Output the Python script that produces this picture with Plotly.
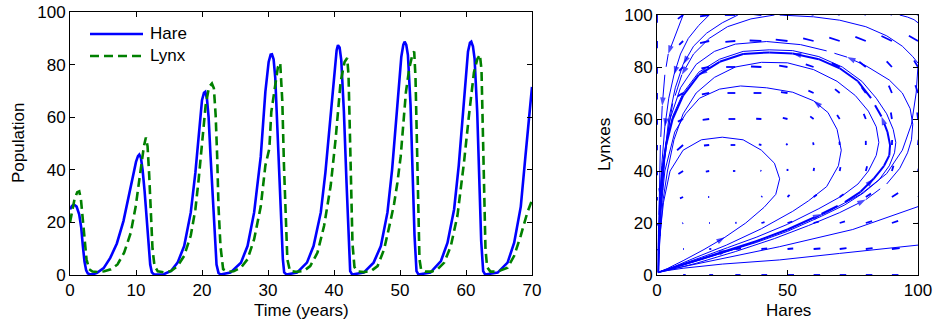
import plotly.graph_objects as go

# ---------------- time series ----------------
hare_pts = [(0, 25), (0.3, 26.3), (0.6, 26.8), (1.0, 26), (1.4, 23), (1.7, 18), (1.95, 11), (2.2, 5), (2.45, 1.8), (2.7, 0.6), (3.0, 0.3), (3.5, 0.3), (4.1, 0.8), (5.1, 2.6), (6.1, 6.5), (7.1, 12), (8.1, 20.5), (9.0, 31), (9.6, 38.5), (10.0, 43), (10.3, 45.2), (10.5, 45.8), (10.75, 44.5), (11.0, 40), (11.3, 32), (11.6, 22), (11.9, 11), (12.15, 4), (12.4, 1), (12.7, 0.3), (13.2, 0.2), (14.2, 0.3),
            (15.3, 1.5), (16.3, 4.7), (17.3, 11), (18.3, 23.8), (19.0, 39), (19.5, 54), (20.0, 66.5), (20.3, 69.3), (20.5, 69.7), (20.75, 67), (21.0, 60), (21.3, 45), (21.6, 30), (21.9, 15), (22.2, 4), (22.5, 0.8), (22.8, 0.2), (24.3, 0.9),
            (25.9, 4.7), (26.9, 11), (27.9, 23.8), (28.9, 45), (29.6, 69.6), (30.1, 81), (30.4, 83.8), (30.6, 83.9), (30.85, 82), (31.1, 75), (31.4, 58), (31.7, 40), (32.0, 20), (32.25, 6), (32.45, 1), (32.8, 0.2), (34.4, 0.9),
            (35.9, 4.7), (36.9, 11), (38.0, 23.8), (38.7, 39), (39.5, 60.7), (40.1, 79.8), (40.4, 85.5), (40.6, 87.4), (40.85, 86.5), (41.1, 81.7), (41.5, 62), (41.9, 35), (42.2, 12), (42.45, 1.5), (42.75, 0.2), (44.5, 0.9),
            (46.0, 4.7), (47.1, 11), (48.1, 23.8), (48.8, 40), (49.6, 64.5), (50.2, 83), (50.5, 87.5), (50.7, 88.7), (50.95, 87.5), (51.2, 83.6), (51.6, 64.5), (51.9, 40), (52.2, 15), (52.5, 1.5), (52.8, 0.2), (54.6, 0.9),
            (56.2, 5.3), (57.2, 12.3), (58.2, 25), (58.9, 41.6), (59.7, 67), (60.3, 84.9), (60.6, 88.3), (60.8, 88.7), (61.05, 87), (61.3, 82.3), (61.7, 62), (62.0, 38), (62.3, 13), (62.6, 1.5), (62.9, 0.2), (64.8, 0.9),
            (66.3, 4.7), (67.3, 12.3), (68.3, 26), (69.0, 45), (69.5, 58), (70.0, 71.5)]

lynx_pts = [(0, 20), (0.3, 24.5), (0.7, 29), (1.1, 31.5), (1.4, 31.8), (1.65, 29), (1.9, 23), (2.2, 13.5), (2.5, 6), (2.9, 2.2), (3.4, 1.3), (4.2, 1.1), (5.2, 1.4), (6.2, 2.2), (7.2, 4), (8.2, 8.5), (9.2, 16), (9.95, 26), (10.6, 39), (11.2, 49), (11.5, 52.3), (11.75, 49), (12.0, 38), (12.25, 22), (12.5, 10), (12.8, 3.5), (13.3, 1.4), (14.2, 1.0),
            (15.3, 1.5), (16.3, 3.4), (17.3, 7.3), (18.3, 15), (19.0, 25), (19.5, 36.5), (20.05, 51.8), (20.55, 64.5), (21.06, 71.5), (21.5, 72.8), (21.8, 71), (22.07, 60.7), (22.3, 45), (22.5, 26), (22.8, 11), (23.2, 2.2), (23.8, 1.3), (24.8, 1.4),
            (25.9, 2.8), (26.9, 6), (27.9, 13.6), (28.9, 26), (29.6, 41.6), (30.2, 48), (30.5, 62), (30.9, 69.6), (31.5, 79), (31.85, 80.6), (32.17, 66), (32.42, 41.6), (32.68, 20), (32.93, 6), (33.33, 1.5), (34.2, 1.2),
            (35.4, 1.5), (36.4, 3.4), (37.5, 8.5), (38.5, 18.7), (39.5, 34), (40.25, 51.8), (41.0, 73.4), (41.6, 81), (42.0, 82.5), (42.2, 76), (42.4, 55), (42.6, 32), (42.8, 12), (43.1, 3), (43.6, 1.3), (44.5, 1.1),
            (45.6, 1.5), (46.6, 3.4), (47.6, 9.8), (48.6, 21), (49.1, 27), (49.6, 35), (50.1, 45), (50.9, 69.6), (51.4, 78.5), (51.9, 84), (52.15, 85), (52.35, 75), (52.55, 50), (52.75, 22), (52.95, 6), (53.2, 2), (53.8, 1.3), (54.8, 1.3),
            (55.7, 2.2), (56.7, 4.7), (57.7, 11), (58.7, 22.5), (59.7, 42.9), (60.45, 60.7), (61.2, 77), (61.7, 82), (62.1, 83.8), (62.35, 78), (62.55, 55), (62.75, 28), (62.95, 10), (63.2, 3), (63.7, 1.3), (64.8, 1.3),
            (66.3, 2.8), (67.3, 7.3), (68.3, 15), (69.3, 23.8), (70, 28.5)]

time_ticks = [0, 10, 20, 30, 40, 50, 60, 70]
pop_ticks = [0, 20, 40, 60, 80, 100]
hares_ticks = [0, 50, 100]

# ---------------- phase portrait trajectories (H, L), in flow order ----------------
limit_cycle = [(0.5, 1), (3, 1.8), (8, 3.3), (17, 6.2), (27, 9.5), (38, 13), (50, 17.5), (63, 23.5), (72, 28), (78, 32), (83, 37), (87, 42), (89, 46), (89.3, 50), (88.3, 55), (86, 61), (82, 68), (77, 74.5), (70, 79.5), (62, 83), (52, 85.2), (43, 85.6), (33, 85), (24, 82), (16, 77), (10, 69), (6, 60), (3.5, 50), (2, 40), (1.2, 30), (0.8, 20), (0.6, 10), (0.5, 1)]
loop_near_in = [(1, 1.2), (8, 3.6), (17, 6.8), (27, 10.5), (38, 14.5), (50, 19.5), (62, 25.5), (71, 30.5), (77, 35), (81, 40), (84, 46), (85, 51), (84, 57), (81, 63), (76, 69), (69, 74.5), (60, 79), (50, 81.6), (40, 81.8), (30, 80), (22, 76), (15, 70), (10, 62), (6.5, 52), (4, 40), (2.2, 28), (1.2, 15)]
loop_near_out = [(0.5, 1), (3, 1.7), (8, 3.1), (17, 5.9), (27, 9.1), (38, 12.5), (50, 16.8), (63, 22.6), (72, 27), (79, 31.5), (85, 36.5), (89, 42), (91, 47), (91.5, 51), (90.5, 56), (88, 62), (84, 68), (78.5, 74.5), (71, 80), (62, 84), (52, 86.3), (43, 86.6), (33, 86), (24, 83), (16, 78), (10, 70), (6, 61), (3.5, 51), (2, 41), (1.2, 30), (0.8, 20), (0.6, 10)]
loop_inner = [(1, 1.2), (4, 2.5), (10, 5.5), (18, 9.8), (26, 14.5), (34, 20), (41, 26), (45.5, 31), (47, 37), (45, 43), (40, 48), (33, 52), (25, 53), (17, 52), (10, 48), (5, 40), (2.5, 28), (1.3, 17), (0.8, 8), (0.6, 2)]
loop_mid = [(1, 1.2), (6, 3), (15, 6.8), (26.6, 11.5), (40, 17.8), (52, 24.5), (58, 28.5), (65, 34), (69.5, 42), (70.6, 48), (69, 56), (65.5, 62.5), (60, 67), (52, 70.3), (42, 72), (32, 72.7), (24, 71.5), (16.3, 68), (11, 62), (6.8, 55), (3, 40), (1.5, 25), (0.8, 10)]
loop_outer = [(0.5, 1), (3, 1.5), (15, 4.5), (30, 9), (45, 14), (58, 19), (70, 24), (80, 29), (88, 35), (93, 41), (96, 47), (97.5, 52), (98, 58), (97, 64), (94, 70), (89, 75), (80, 80.5), (72.8, 83.8), (65, 86.2), (55, 88.6), (42, 89.8), (30, 88.8), (22, 86), (15, 81), (9, 72), (5, 60), (3, 45), (1.5, 25), (0.8, 8)]
loop_exit = [(0.5, 1), (15, 5.5), (30, 10), (50, 17.5), (65, 24), (78, 31), (88, 39), (94, 48), (97.5, 58), (99.3, 70), (100, 80.5)]
top_arc = [(100, 81.5), (98, 84), (94, 88), (88, 92), (80, 95.5), (70, 98), (60, 99.3), (47, 100)]
corner_arc = [(100, 97), (98.5, 98.2), (96, 99.2), (93, 100)]
low_line_1 = [(0.5, 1.2), (10, 2.6), (25, 4.2), (47, 5.8), (70, 8.3), (100, 11.5)]
low_line_2 = [(0.5, 1.2), (20, 5.2), (47, 10.9), (75, 17.5), (100, 26.3)]
top_line_1 = [(10, 100), (8, 95), (6, 90), (4.3, 85), (3, 77), (2, 65), (1.3, 50), (0.8, 30), (0.5, 10), (0.5, 1)]
top_line_2 = [(20, 100), (16, 96), (12, 91), (9, 85), (6.5, 77), (4.5, 68), (3, 57), (1.8, 42), (1, 25), (0.5, 8), (0.5, 1)]
top_line_3 = [(31, 100), (25, 97), (19, 93), (14, 88), (10, 81), (7, 72), (4.5, 60), (2.8, 45), (1.5, 28), (0.7, 10), (0.5, 1)]
top_line_4 = [(45, 100), (36, 98.5), (27, 95.5), (20, 91), (14, 85), (9.5, 77), (6, 66), (3.5, 51), (1.8, 33), (0.7, 12), (0.5, 1)]

# ---------------- quiver field, read per grid point ----------------
grid_H = [0, 10, 20, 30, 40, 50, 60, 70, 80, 90, 100]
grid_L = [0, 10, 20, 30, 40, 50, 60, 70, 80, 90, 100]
arrow_U = [
    [0, 1, 1.5, 2, 2.2, 2.5, 2.5, 2.5, 2.5, 2.5, 2.5],
    [0, 0.3, 0.8, 2.2, 2.2, 2.2, 2.6, 2.6, 2.6, 3.0, 3.0],
    [0, -0.3, 0.3, 0.5, 1.2, 1.8, 2.0, 2.0, 2.4, 2.4, 2.4],
    [0, -1.2, -0.4, 0, 0.3, 0.8, 1.2, 1.5, 2, 2.4, 2.4],
    [0, -1.8, -1.3, -0.9, -0.4, 0, 0.2, 0.3, 0.5, 0.6, 0.6],
    [0, -2.3, -2, -1.8, -1, -0.5, -0.2, -0.1, 0, 0.1, 0.2],
    [0, -2, -2.5, -2.6, -2, -1.8, -1.3, -1, -0.8, -0.4, -0.3],
    [0, -2, -2.8, -3, -3, -2.5, -2, -1.8, -1.6, -1.2, -1],
    [0, -1.5, -3, -3.5, -4, -3.2, -3, -3, -2.5, -2, -1.5],
    [0, -1.5, -3.5, -3.8, -4.5, -4.5, -4, -4, -4, -4, -3.5],
    [0, -2, -3.5, -4, -4.5, -4.5, -4.5, -4.5, -4.2, -4, -3.5],
]
arrow_V = [
    [0, 0, 0, 0, 0, 0, 0, 0, 0, 0, 0],
    [-0.5, 0, 0, 0.2, 0.2, 0.2, 0.2, 0.3, 0.3, 0.3, 0.3],
    [-1, -0.2, 0, 0.1, 0.3, 0.5, 0.5, 0.6, 0.7, 0.8, 0.8],
    [-1.3, -0.5, 0, 0, 0.3, 0.8, 0.9, 1.1, 1.3, 1.5, 1.5],
    [-1.6, -1.2, -0.2, 0, 0.2, 0.8, 1.2, 1.5, 1.8, 2, 2],
    [-2, -2, -0.2, 0, 0.2, 0.5, 1, 1.3, 1.6, 1.9, 2],
    [-2.2, -1, -0.3, 0, 0.1, 0.4, 1, 1.5, 2, 2.5, 2.5],
    [-2.5, -1.2, -0.5, 0, 0, 0.3, 0.9, 1.5, 2.2, 2.8, 3],
    [-2.6, -1.5, -0.5, 0, 0.2, 0.5, 1, 1.5, 2, 2.2, 2.5],
    [-2.8, -1.5, -0.8, -0.3, 0.2, 0.5, 1, 1.3, 1.6, 1.9, 2],
    [-3, -1.5, -0.5, 0, 0.5, 1, 1.5, 2, 2.5, 3, 3],
]

BLUE = "rgb(0,0,255)"
GREEN = "rgb(0,128,0)"
FONT = "Liberation Sans, Arial, Helvetica, sans-serif"

fig = go.Figure()

# left: time series
fig.add_trace(go.Scatter(x=[p[0] for p in hare_pts], y=[p[1] for p in hare_pts], mode="lines",
                         line=dict(color=BLUE, width=2.6), name="Hare", showlegend=False,
                         xaxis="x", yaxis="y"))
fig.add_trace(go.Scatter(x=[p[0] for p in lynx_pts], y=[p[1] for p in lynx_pts], mode="lines",
                         line=dict(color=GREEN, width=2.6, dash="9px,5px"), name="Lynx", showlegend=False,
                         xaxis="x", yaxis="y"))

# right: quiver
qx, qy = [], []
for i, L in enumerate(grid_L):
    for j, H in enumerate(grid_H):
        qx += [H, H + arrow_U[i][j], None]
        qy += [L, L + arrow_V[i][j], None]
fig.add_trace(go.Scatter(x=qx, y=qy, mode="lines", line=dict(color=BLUE, width=1.8),
                         showlegend=False, xaxis="x2", yaxis="y2", hoverinfo="skip"))


def add_traj(points, width=1.0, arrows=()):
    sizes = [9 if k in arrows else 0 for k in range(len(points))]
    fig.add_trace(go.Scatter(
        x=[p[0] for p in points], y=[p[1] for p in points],
        mode="lines+markers" if arrows else "lines",
        line=dict(color=BLUE, width=width),
        marker=dict(symbol="arrow", size=sizes, angleref="previous", color=BLUE, line=dict(width=0)),
        showlegend=False, xaxis="x2", yaxis="y2", hoverinfo="skip"))


add_traj(low_line_1)
add_traj(low_line_2)
add_traj(loop_exit)
add_traj(top_arc)
add_traj(corner_arc)
add_traj(loop_inner, arrows=(4,))
add_traj(loop_mid, arrows=(12,))
add_traj(loop_outer, arrows=(7, 17))
add_traj(loop_near_in)
add_traj(loop_near_out)
add_traj(top_line_1, arrows=(3, 5))
add_traj(top_line_2, arrows=(4, 6))
add_traj(top_line_3, arrows=(4,))
add_traj(top_line_4, arrows=(5,))
add_traj(limit_cycle, width=2.0, arrows=(4, 7, 10, 15, 20, 24, 29))

axis_common = dict(showline=True, linecolor="black", linewidth=1, mirror="ticks", ticks="inside",
                   ticklen=5, tickcolor="black", showgrid=False, zeroline=False,
                   tickfont=dict(family=FONT, size=17, color="black"), automargin=False)

fig.update_layout(
    width=933, height=327,
    margin=dict(l=0, r=0, t=0, b=0),
    paper_bgcolor="white", plot_bgcolor="white",
    font=dict(family=FONT, size=17, color="black"),
    showlegend=False,
    xaxis=dict(domain=[70 / 933, 532 / 933], range=[0, 70], tickvals=time_ticks, anchor="y", **axis_common),
    yaxis=dict(domain=[52 / 327, 315 / 327], range=[0, 100], tickvals=pop_ticks, anchor="x", **axis_common),
    xaxis2=dict(domain=[657 / 933, 918 / 933], range=[0, 100], tickvals=hares_ticks, anchor="y2", **axis_common),
    yaxis2=dict(domain=[52 / 327, 312 / 327], range=[0, 100], tickvals=pop_ticks, anchor="x2", **axis_common),
)

ann = dict(showarrow=False, xref="paper", yref="paper", font=dict(family=FONT, size=17, color="black"))
fig.add_annotation(text="Population", x=18 / 933, y=1 - 143 / 327, textangle=-90, xanchor="center", yanchor="middle", **ann)
fig.add_annotation(text="Time (years)", x=301 / 933, y=1 - 310 / 327, xanchor="center", yanchor="middle", **ann)
fig.add_annotation(text="Lynxes", x=605 / 933, y=1 - 145 / 327, textangle=-90, xanchor="center", yanchor="middle", **ann)
fig.add_annotation(text="Hares", x=788 / 933, y=1 - 310 / 327, xanchor="center", yanchor="middle", **ann)

# manual legend
fig.add_shape(type="line", xref="paper", yref="paper", x0=90 / 933, x1=143 / 933, y0=1 - 34 / 327, y1=1 - 34 / 327,
              line=dict(color=BLUE, width=2.6))
fig.add_shape(type="line", xref="paper", yref="paper", x0=90 / 933, x1=143 / 933, y0=1 - 56 / 327, y1=1 - 56 / 327,
              line=dict(color=GREEN, width=2.6, dash="9px,5px"))
fig.add_annotation(text="Hare", x=148 / 933, y=1 - 34 / 327, xanchor="left", yanchor="middle", **ann)
fig.add_annotation(text="Lynx", x=148 / 933, y=1 - 56 / 327, xanchor="left", yanchor="middle", **ann)

fig.write_html("out.html", config={"displayModeBar": False},
               post_script="document.body.style.margin='0';document.body.style.overflow='hidden';")
